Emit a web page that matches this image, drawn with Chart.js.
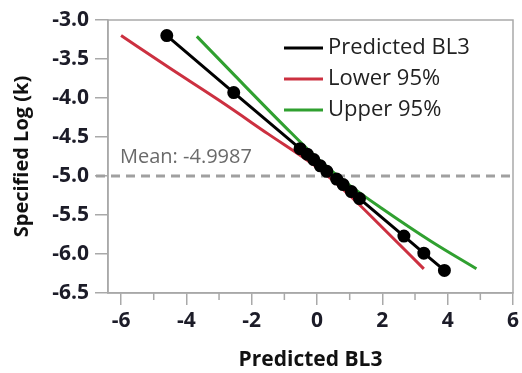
<!DOCTYPE html>
<html>
<head>
<meta charset="utf-8">
<script src="https://cdn.jsdelivr.net/npm/chart.js@4"></script>
<style>
  html, body { margin: 0; padding: 0; background: #fff; }
  #wrap { width: 522px; height: 373px; }
</style>
</head>
<body>
<div id="wrap"><canvas id="myChart" width="522" height="373"></canvas></div>
<script>
// fitted points (x = Predicted BL3, y = Specified Log (k))
var fitX = [-4.6, -2.55, -0.52, -0.3, -0.1, 0.1, 0.3, 0.6, 0.8, 1.05, 1.3, 2.66, 3.27, 3.9];
var fitY = [-3.20, -3.93, -4.65, -4.72, -4.79, -4.87, -4.94, -5.04, -5.11, -5.20, -5.29, -5.77, -5.99, -6.21];

// lower 95% curve
var lowerX = [-6.0, -4.5, -3.0, -1.5, 0.0, 1.0, 2.0, 3.27];
var lowerY = [-3.20, -3.62, -4.03, -4.46, -4.89, -5.25, -5.66, -6.19];

// upper 95% curve
var upperX = [-3.68, -2.5, -1.0, 0.0, 1.0, 2.0, 3.5, 4.88];
var upperY = [-3.21, -3.72, -4.36, -4.77, -5.12, -5.42, -5.84, -6.19];

var meanValue = -4.9987;

var xMajorTicks = [-6, -4, -2, 0, 2, 4, 6];
var xMinorTicks = [-5, -3, -1, 1, 3, 5];

var axisGray = '#a9a9a9';
var textDark = '#1c1c28';

function toPoints(xs, ys) {
    return xs.map(function (x, i) { return { x: x, y: ys[i] }; });
}

// dashed mean line + its label, drawn under the lines
var meanLine = {
    id: 'meanLine',
    beforeDatasetsDraw: function (chart) {
        var ctx = chart.ctx;
        var area = chart.chartArea;
        var y = chart.scales.y.getPixelForValue(meanValue);
        ctx.save();
        ctx.strokeStyle = '#a0a0a0';
        ctx.lineWidth = 3;
        ctx.setLineDash([9, 6]);
        ctx.beginPath();
        ctx.moveTo(area.left - 12, y);
        ctx.lineTo(area.right, y);
        ctx.stroke();
        ctx.setLineDash([]);
        ctx.fillStyle = '#6a6a6a';
        ctx.font = '20px "Open Sans"';
        ctx.textBaseline = 'alphabetic';
        ctx.fillText('Mean: ' + meanValue, area.left + 12, y - 13);
        ctx.restore();
    }
};

// plot frame, short ticks at odd x values, legend inside the plot
var frameAndLegend = {
    id: 'frameAndLegend',
    afterDraw: function (chart) {
        var ctx = chart.ctx;
        var area = chart.chartArea;
        var xs = chart.scales.x;
        ctx.save();
        ctx.strokeStyle = axisGray;
        ctx.lineWidth = 1.5;
        ctx.strokeRect(area.left, area.top, area.right - area.left, area.bottom - area.top);
        ctx.beginPath();
        xMinorTicks.forEach(function (v) {
            var px = xs.getPixelForValue(v);
            ctx.moveTo(px, area.bottom);
            ctx.lineTo(px, area.bottom + 7);
        });
        ctx.stroke();

        var lx = area.left + 176;
        var ly = area.top + 28;
        ctx.font = '22px "Open Sans"';
        ctx.textBaseline = 'middle';
        chart.data.datasets.forEach(function (ds, i) {
            var y = ly + i * 31;
            ctx.strokeStyle = ds.borderColor;
            ctx.lineWidth = 3;
            ctx.beginPath();
            ctx.moveTo(lx, y);
            ctx.lineTo(lx + 39, y);
            ctx.stroke();
            ctx.fillStyle = '#222';
            ctx.fillText(ds.label, lx + 44, y);
        });
        ctx.restore();
    }
};

var ctx = document.getElementById('myChart').getContext('2d');

var myChart = new Chart(ctx, {
    type: 'scatter',
    data: {
        datasets: [{
            label: 'Predicted BL3',
            data: toPoints(fitX, fitY),
            showLine: true,
            borderColor: '#000',
            backgroundColor: '#000',
            borderWidth: 3,
            pointRadius: 5,
            order: 1
        }, {
            label: 'Lower 95%',
            data: toPoints(lowerX, lowerY),
            showLine: true,
            borderColor: '#cc3040',
            borderWidth: 3,
            pointRadius: 0,
            cubicInterpolationMode: 'monotone',
            order: 3
        }, {
            label: 'Upper 95%',
            data: toPoints(upperX, upperY),
            showLine: true,
            borderColor: '#30a030',
            borderWidth: 3,
            pointRadius: 0,
            cubicInterpolationMode: 'monotone',
            order: 2
        }]
    },
    options: {
        responsive: false,
        animation: false,
        layout: { padding: { top: 20, right: 6, left: 0, bottom: 0 } },
        plugins: {
            legend: { display: false },
            tooltip: { enabled: false }
        },
        scales: {
            x: {
                type: 'linear',
                min: -6.4,
                max: 6,
                afterBuildTicks: function (scale) {
                    scale.ticks = xMajorTicks.map(function (v) { return { value: v }; });
                },
                afterFit: function (scale) { scale.height = 80; },
                grid: { drawOnChartArea: false, tickLength: 12, color: axisGray, lineWidth: 1.5 },
                border: { color: axisGray, width: 1.5 },
                ticks: {
                    color: textDark,
                    padding: 3,
                    maxRotation: 0,
                    font: { family: 'Open Sans', size: 21, weight: 'bold' }
                },
                title: {
                    display: true,
                    text: 'Predicted BL3',
                    color: '#111',
                    padding: { top: 0, bottom: 0 },
                    font: { family: 'Open Sans', size: 21, weight: 'bold' }
                }
            },
            y: {
                min: -6.5,
                max: -3.0,
                afterFit: function (scale) { scale.width = 108; },
                grid: { drawOnChartArea: false, tickLength: 13, color: axisGray, lineWidth: 1.5 },
                border: { color: axisGray, width: 1.5 },
                ticks: {
                    stepSize: 0.5,
                    color: textDark,
                    padding: 6,
                    font: { family: 'Open Sans', size: 21, weight: 'bold' },
                    callback: function (v) { return v.toFixed(1); }
                },
                title: {
                    display: true,
                    text: 'Specified Log (k)',
                    color: '#111',
                    padding: { top: 10, bottom: 0 },
                    font: { family: 'Open Sans', size: 20, weight: 'bold' }
                }
            }
        }
    },
    plugins: [meanLine, frameAndLegend]
});
</script>
</body>
</html>
